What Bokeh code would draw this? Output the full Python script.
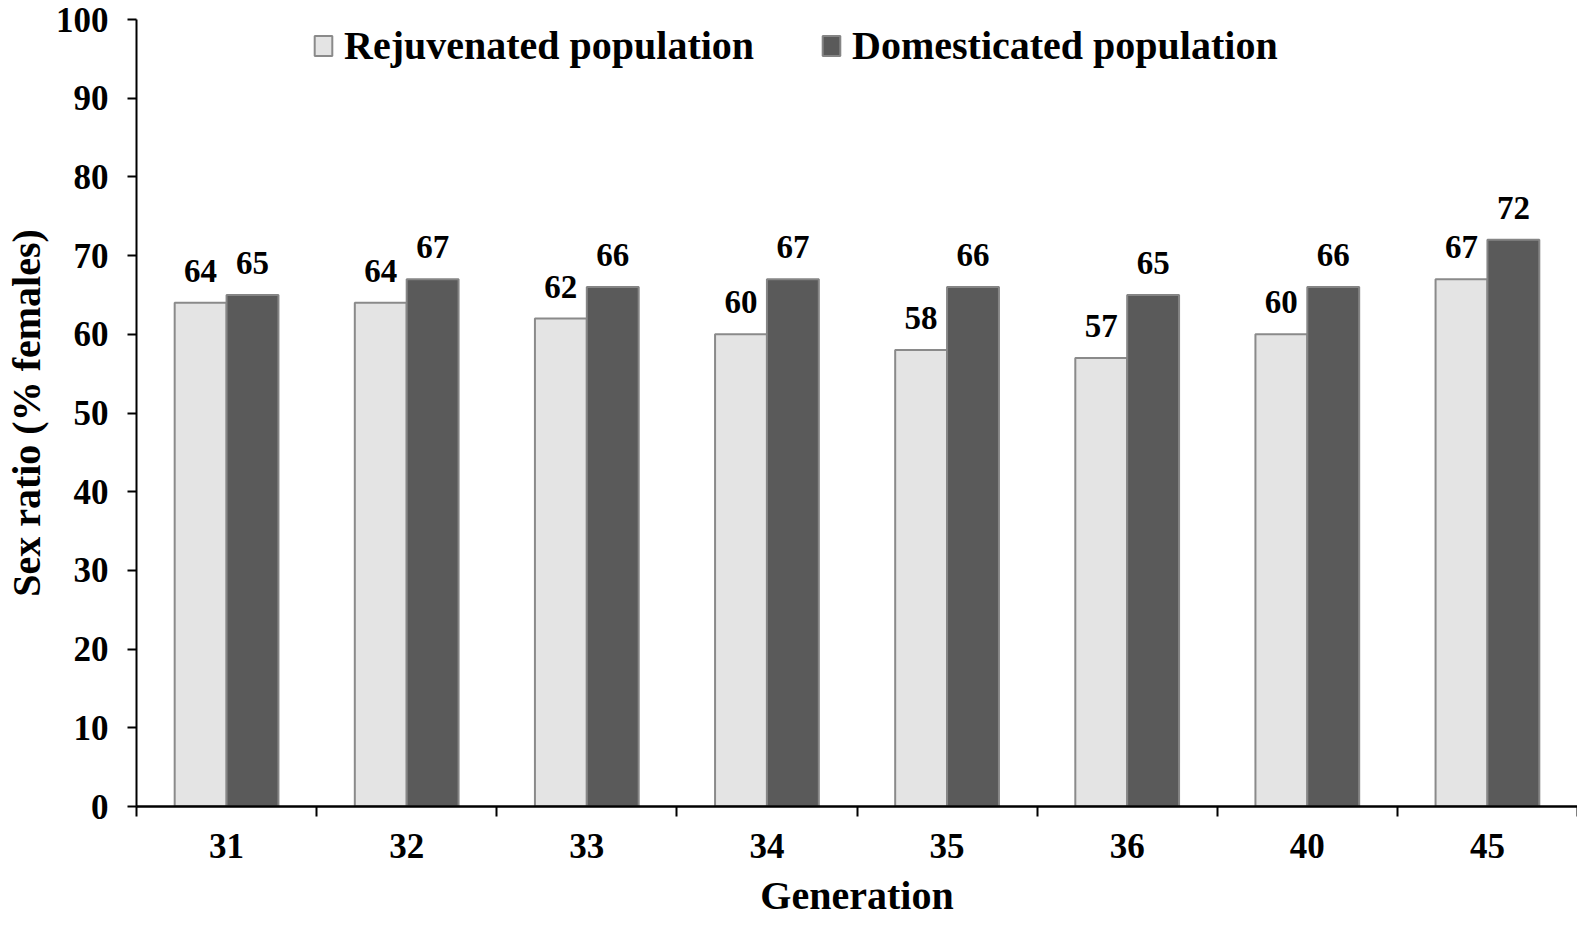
import numpy as np
from bokeh.plotting import figure
from bokeh.models import (ColumnDataSource, Range1d, FixedTicker, Legend, LegendItem)
from bokeh.core.properties import value
from bokeh.embed import file_html
from bokeh.resources import INLINE

# ---- data ----
generations = ["31", "32", "33", "34", "35", "36", "40", "45"]
rejuvenated = [64, 64, 62, 60, 58, 57, 60, 67]
domesticated = [65, 67, 66, 67, 66, 65, 66, 72]
series_names = ["Rejuvenated population", "Domesticated population"]
y_ticks = [0, 10, 20, 30, 40, 50, 60, 70, 80, 90, 100]

FONT = "Liberation Serif"
LIGHT_FILL, LIGHT_LINE = "#e4e4e4", "#8a8a8a"
DARK_FILL, DARK_LINE = "#5a5a5a", "#858585"
BAR_W = 0.288

n = len(generations)
centers = np.arange(n) + 0.5

src = ColumnDataSource(dict(
    xl=centers - BAR_W / 2,
    xd=centers + BAR_W / 2,
    rej=rejuvenated,
    dom=domesticated,
    rej_lbl=[str(v) for v in rejuvenated],
    dom_lbl=[str(v) for v in domesticated],
))

p = figure(width=1577, height=920, output_backend="svg", toolbar_location=None,
           x_range=Range1d(0, n), y_range=Range1d(0, 100), min_border=0,
           min_border_left=130, min_border_right=0, min_border_top=19,
           min_border_bottom=100)
p.outline_line_color = None
p.xgrid.visible = False
p.ygrid.visible = False
p.background_fill_color = "white"
p.border_fill_color = "white"

r1 = p.vbar(x="xl", top="rej", width=BAR_W, source=src, fill_color=LIGHT_FILL,
            line_color=LIGHT_LINE, line_width=2)
r2 = p.vbar(x="xd", top="dom", width=BAR_W, source=src, fill_color=DARK_FILL,
            line_color=DARK_LINE, line_width=2)

for xcol, ycol, tcol in (("xl", "rej", "rej_lbl"), ("xd", "dom", "dom_lbl")):
    p.text(x=xcol, y=ycol, text=tcol, source=src, text_align="center",
           text_baseline="bottom", y_offset=-21, text_font=value(FONT),
           text_font_style="bold", text_font_size="33px", text_color="black")

# y axis
ya = p.yaxis[0]
ya.ticker = FixedTicker(ticks=y_ticks)
ya.axis_label = "Sex ratio (% females)"
ya.axis_label_text_font = FONT
ya.axis_label_text_font_style = "bold"
ya.axis_label_text_font_size = "40px"
ya.axis_label_text_color = "black"
ya.axis_label_standoff = 4
ya.major_label_text_font = FONT
ya.major_label_text_font_style = "bold"
ya.major_label_text_font_size = "35px"
ya.major_label_text_color = "black"
ya.major_label_standoff = 19
ya.major_tick_out = 9
ya.major_tick_in = 0
ya.minor_tick_out = 0
ya.minor_tick_in = 0
ya.axis_line_width = 2
ya.major_tick_line_width = 2
ya.axis_line_color = "black"

# x axis
xa = p.xaxis[0]
xa.ticker = FixedTicker(ticks=list(centers), minor_ticks=list(range(n + 1)))
xa.major_label_overrides = {float(c): g for c, g in zip(centers, generations)}
xa.axis_label = "Generation"
xa.axis_label_text_font = FONT
xa.axis_label_text_font_style = "bold"
xa.axis_label_text_font_size = "40px"
xa.axis_label_text_color = "black"
xa.axis_label_standoff = 12
xa.major_label_text_font = FONT
xa.major_label_text_font_style = "bold"
xa.major_label_text_font_size = "35px"
xa.major_label_text_color = "black"
xa.major_label_standoff = 17
xa.major_tick_out = 0
xa.major_tick_in = 0
xa.minor_tick_out = 10
xa.minor_tick_in = 0
xa.minor_tick_line_width = 2
xa.minor_tick_line_color = "black"
xa.axis_line_width = 2.5
xa.axis_line_color = "black"

legend = Legend(items=[LegendItem(label=series_names[0], renderers=[r1]),
                       LegendItem(label=series_names[1], renderers=[r2])],
                orientation="horizontal", location=(176, 737),
                label_text_font=FONT, label_text_font_style="bold",
                label_text_font_size="40px", label_text_color="black",
                glyph_width=22, glyph_height=25,
                label_standoff=10, spacing=66, padding=0, margin=0,
                border_line_alpha=0, background_fill_alpha=0)
p.add_layout(legend, "center")

open("out.html", "w").write(file_html(p, INLINE))
